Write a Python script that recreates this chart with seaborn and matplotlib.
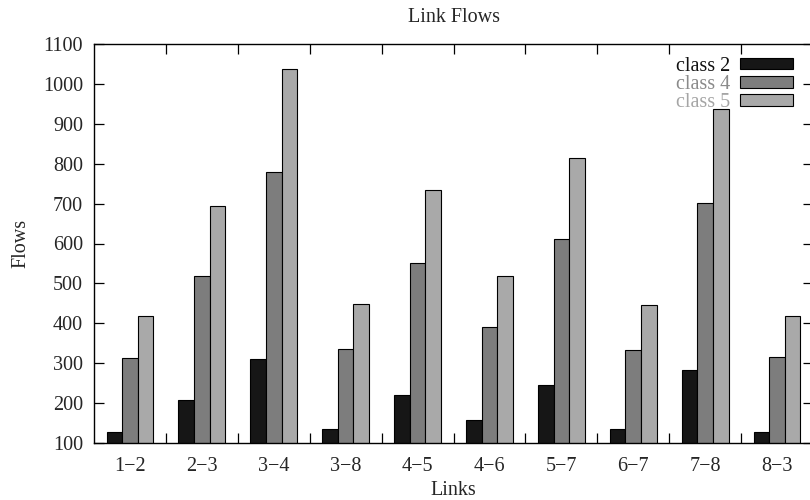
import matplotlib
matplotlib.use("Agg")
import matplotlib.pyplot as plt
import seaborn as sns
import pandas as pd
import numpy as np

# Link flow values per traffic class
links = ["1\u22122", "2\u22123", "3\u22124", "3\u22128", "4\u22125",
         "4\u22126", "5\u22127", "6\u22127", "7\u22128", "8\u22123"]
class2 = [127, 208, 311, 136, 221, 157, 246, 135, 283, 128]
class4 = [314, 519, 779, 336, 551, 391, 612, 334, 702, 315]
class5 = [419, 693, 1037, 448, 734, 519, 815, 445, 936, 419]
series_names = ["class 2", "class 4", "class 5"]
y_ticks = list(range(100, 1101, 100))

df = pd.DataFrame({
    "Links": links * 3,
    "Flows": class2 + class4 + class5,
    "Class": [n for n in series_names for _ in links],
})

sns.set_theme(style="white")
plt.rcParams["font.family"] = ["Liberation Serif", "DejaVu Serif"]
FS = 14.5
plt.rcParams["font.size"] = FS

bar_colors = ["#161616", "#7d7d7d", "#a9a9a9"]
text_colors = ["#111111", "#8a8a8a", "#a5a5a5"]

fig = plt.figure(figsize=(8.1, 5.0), dpi=100)
ax = fig.add_axes([94 / 810, 1 - 443 / 500, 719 / 810, 399 / 500])

sns.barplot(data=df, x="Links", y="Flows", hue="Class", order=links,
            hue_order=series_names, palette=bar_colors, width=0.65,
            edgecolor="black", linewidth=0.8, saturation=1, ax=ax,
            legend=True)

ax.set_xlim(-0.5, len(links) - 0.5)
ax.set_ylim(100, 1100)
ax.set_yticks(y_ticks)
ax.set_yticklabels([str(v) for v in y_ticks], fontsize=FS)

# boundary ticks between link groups, labels at group centres
ax.set_xticks(np.arange(0.5, len(links) - 0.5, 1.0))
ax.set_xticklabels([])
ax.set_xticks(np.arange(len(links)), minor=True)
ax.set_xticklabels(links, minor=True, fontsize=FS)
ax.tick_params(axis="x", which="major", direction="in", length=7.5,
               width=0.9, top=True, bottom=True, color="black")
ax.tick_params(axis="x", which="minor", length=0, pad=10)
ax.tick_params(axis="y", which="major", direction="in", length=7.5,
               width=0.9, left=True, right=True, color="black", pad=8)

for s in ax.spines.values():
    s.set_visible(True)
    s.set_color("black")
    s.set_linewidth(1.0)

ax.set_title("Link Flows", fontsize=FS, pad=16)
ax.set_xlabel("Links", fontsize=FS, labelpad=4)
ax.set_ylabel("Flows", fontsize=FS, labelpad=9)

handles, labels = ax.get_legend_handles_labels()
leg = ax.legend(handles, labels, loc="upper right",
                bbox_to_anchor=(0.972, 0.968), frameon=False,
                markerfirst=False, fontsize=FS, handlelength=2.63,
                handleheight=0.5, handletextpad=0.5, labelspacing=-0.04,
                borderpad=0, borderaxespad=0)
for txt, c in zip(leg.get_texts(), text_colors):
    txt.set_color(c)
for p in leg.get_patches():
    p.set_edgecolor("black")
    p.set_linewidth(0.8)

fig.savefig("out.png", dpi=100)
